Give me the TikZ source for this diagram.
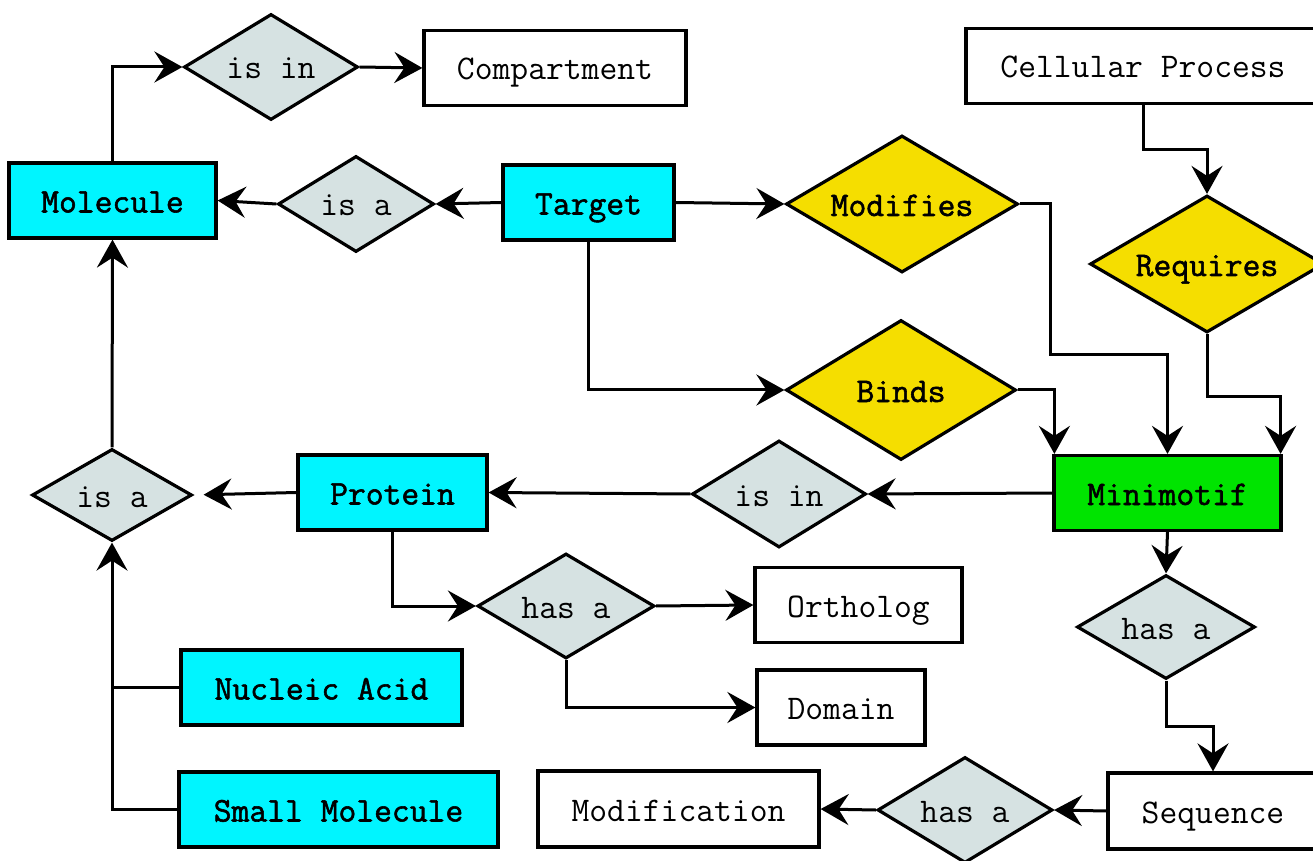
\documentclass[tikz,border=0pt]{standalone}
\usepackage{fontspec}
\setmonofont{Latin Modern Mono}[AutoFakeBold=1.6]
\usepackage{tikz}
\usetikzlibrary{shapes.geometric, arrows.meta, calc}

\definecolor{ciano}{RGB}{0,245,255}
\definecolor{cinza}{RGB}{214,226,226}
\definecolor{amarelo}{RGB}{245,222,0}
\definecolor{verde}{RGB}{0,228,0}

\begin{document}
\begin{tikzpicture}[
        x=0.5pt, y=-0.5pt,
        caixa/.style={draw, line width=1.6pt, fill=white, inner sep=0pt, minimum height=37.5pt,
            text height=12pt, text depth=0pt, font=\ttfamily\fontsize{17.3}{20}\selectfont},
        caixacor/.style={caixa, fill=ciano, font=\ttfamily\bfseries\fontsize{17.3}{20}\selectfont},
        relacao/.style={diamond, aspect=1.7, draw, line width=1.6pt, fill=cinza, inner sep=0pt,
            text height=12pt, text depth=0pt, font=\ttfamily\fontsize{17.3}{20}\selectfont},
        relacaochave/.style={relacao, fill=amarelo, font=\ttfamily\bfseries\fontsize{17.3}{20}\selectfont},
        seta/.style={line width=1.5pt, -{Stealth[length=14pt, width=15.5pt, inset=5pt]}},
        linha/.style={line width=1.5pt}
    ]
    \useasboundingbox (0,0) rectangle (1313,861);
    \clip (0,0) rectangle (1313,861);

    % Entidades
    \node[caixa, minimum width=131pt] (comp) at (555,68) {Compartment};
    \node[caixa, minimum width=177pt] (cell) at (1143,66) {Cellular Process};
    \node[caixacor, minimum width=103.5pt] (mol) at (112.5,200.5) {Molecule};
    \node[caixacor, minimum width=85.5pt] (target) at (588.5,202.5) {Target};
    \node[caixacor, fill=verde, minimum width=113.5pt] (minimotif) at (1167.5,493) {Minimotif};
    \node[caixacor, minimum width=94.5pt] (protein) at (392.5,492.5) {Protein};
    \node[caixa, minimum width=103.5pt] (ortholog) at (858.5,605) {Ortholog};
    \node[caixa, minimum width=84pt] (domain) at (841,707.5) {Domain};
    \node[caixacor, minimum width=140.5pt] (nucleic) at (321.5,687.5) {Nucleic Acid};
    \node[caixacor, minimum width=159.5pt] (smallmol) at (338.5,809.5) {Small Molecule};
    \node[caixa, minimum width=105pt, minimum height=38pt] (sequence) at (1213,811) {Sequence};
    \node[caixa, minimum width=140.5pt, minimum height=38pt] (modification) at (678.5,809) {Modification};

    % Relações
    \node[relacao, minimum width=87pt, minimum height=53pt] (isin1) at (271,67) {is in};
    \node[relacao, minimum width=78pt, minimum height=48pt] (isa1) at (356,204) {is a};
    \node[relacaochave, minimum width=116pt, minimum height=68.5pt] (modifies) at (902,204) {Modifies};
    \node[relacaochave, minimum width=117pt, minimum height=68.5pt] (requires) at (1207,264) {Requires};
    \node[relacaochave, minimum width=115pt, minimum height=70pt] (binds) at (901,390) {Binds};
    \node[relacao, minimum width=87pt, minimum height=53.5pt] (isin2) at (779,494) {is in};
    \node[relacao, minimum width=80pt, minimum height=46pt] (isa2) at (112,495) {is a};
    \node[relacao, minimum width=88.5pt, minimum height=52.5pt] (hasa1) at (566,606) {has a};
    \node[relacao, minimum width=89pt, minimum height=52pt] (hasa2) at (1166,627) {has a};
    \node[relacao, minimum width=87.5pt, minimum height=53pt] (hasa3) at (965,810) {has a};

    % Ligações da parte de cima
    \draw[seta] (mol.north) |- (isin1.west);
    \draw[seta] (isin1.east) -- (comp.west);
    \draw[seta] (target.west) -- (isa1.east);
    \draw[seta] (isa1.west) -- (mol.east);
    \draw[seta] (target.east) -- (modifies.west);
    \draw[seta] (target.south) |- (binds.west);

    % Ligações que chegam ao Minimotif
    \coordinate (dobra) at (1050,355);
    \draw[seta] (modifies.east) -| (dobra) -| (minimotif.north);
    \draw[seta] (binds.east) -| ([xshift=1pt]minimotif.north west);
    \draw[seta] (cell.south) |- ($(cell.south)!0.5!(requires.north)$) -| (requires.north);
    \draw[seta] (requires.south) -- ++(0,62) -| ([xshift=-1pt]minimotif.north east);

    % Ligações da parte de baixo
    \draw[seta] (minimotif.west) -- (isin2.east);
    \draw[seta] (isin2.west) -- (protein.east);
    \draw[seta, shorten >=5pt] (protein.west) -- (isa2.east);
    \draw[linha] (nucleic.west) -- (nucleic.west -| isa2.south);
    \draw[seta] (smallmol.west) -| (isa2.south);
    \draw[seta] (isa2.north) -- (mol.south);
    \draw[seta] (protein.south) |- (hasa1.west);
    \draw[seta] (hasa1.east) -- (ortholog.west);
    \draw[seta] (hasa1.south) |- (domain.west);
    \draw[seta] (minimotif.south) -- (hasa2.north);
    \draw[seta] (hasa2.south) -- ++(0,46) -| (sequence.north);
    \draw[seta] (sequence.west) -- (hasa3.east);
    \draw[seta] (hasa3.west) -- (modification.east);
\end{tikzpicture}
\end{document}
